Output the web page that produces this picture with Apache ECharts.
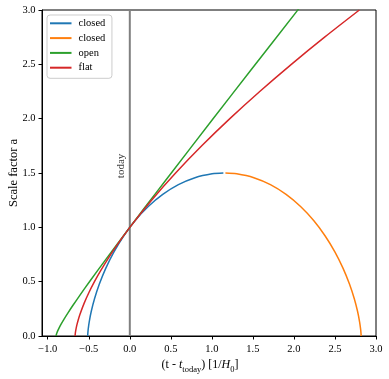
<!DOCTYPE html>
<html>
<head>
<meta charset="utf-8">
<script src="https://cdn.jsdelivr.net/npm/echarts@6/dist/echarts.min.js"></script>
<style>
html,body{margin:0;padding:0;background:#fff;}
#c{width:389px;height:379px;}
</style>
</head>
<body>
<div id="c"></div>
<script>
// Closed universe, expanding branch (blue)
var closedUpX = [-0.513, -0.5125, -0.5076, -0.4945, -0.4694, -0.4291, -0.3711, -0.2934, -0.1948, -0.0751, 0.0652, 0.2247, 0.4013, 0.5922, 0.7940, 1.0029, 1.140];
var closedUpY = [0, 0.0150, 0.0592, 0.131, 0.2275, 0.3448, 0.4782, 0.6225, 0.7719, 0.9204, 1.0621, 1.1914, 1.3030, 1.3927, 1.4567, 1.4925, 1.4999];
// Closed universe, collapsing branch (orange)
var closedDownX = [1.165, 1.3027, 1.5116, 1.7134, 1.9043, 2.0809, 2.2404, 2.3807, 2.5004, 2.5990, 2.6767, 2.7347, 2.7750, 2.8000, 2.8132, 2.8181, 2.8188];
var closedDownY = [1.4999, 1.4925, 1.4567, 1.3927, 1.3030, 1.1914, 1.0621, 0.9204, 0.7719, 0.6225, 0.4782, 0.3448, 0.2275, 0.131, 0.0592, 0.0150, 0];
// Open universe (green)
var openX = [-0.8982, -0.8969, -0.8940, -0.8879, -0.8776, -0.8613, -0.8373, -0.8029, -0.7552, -0.6903, -0.6030, -0.4872, -0.2986, 0, 0.1875, 0.4657, 1.0076, 1.4738, 2.0460, 2.2078];
var openY = [0, 0.0071, 0.0164, 0.0302, 0.0494, 0.0751, 0.1091, 0.1535, 0.2109, 0.2851, 0.3807, 0.5038, 0.6986, 1.0, 1.1868, 1.4616, 1.9920, 2.4452, 2.9991, 3.1554];
// Flat universe (red)
var flatX = [-0.6667, -0.6640, -0.6592, -0.6456, -0.6279, -0.6070, -0.5571, -0.4980, -0.4310, -0.3568, -0.1896, 0, 0.2650, 0.5581, 0.8767, 1.2190, 1.5833, 1.9686, 2.3736, 2.7974];
var flatY = [0, 0.025, 0.05, 0.1, 0.15, 0.2, 0.3, 0.4, 0.5, 0.6, 0.8, 1.0, 1.25, 1.5, 1.75, 2.0, 2.25, 2.5, 2.75, 3.0];
// "today" marker
var todayX = [0, 0];
var todayY = [0, 3];
var todayLabelPos = [-0.1, 1.565];
// Axis ticks
var xTicks = [-1.0, -0.5, 0.0, 0.5, 1.0, 1.5, 2.0, 2.5, 3.0];
var yTicks = [0.0, 0.5, 1.0, 1.5, 2.0, 2.5, 3.0];
var seriesNames = ['closed', 'closed ', 'open', 'flat'];

function zip(xs, ys) { return xs.map(function (x, i) { return [x, ys[i]]; }); }
function fmt(v) { return Number(v).toFixed(1).replace('-', '\u2212'); }

var FONT = 'Liberation Serif';
var chart = echarts.init(document.getElementById('c'), null, { renderer: 'canvas' });

function lineSeries(name, data, color) {
  return {
    name: name, type: 'line', data: data, showSymbol: false, symbol: 'none',
    smooth: 0.3, clip: true, z: 3,
    lineStyle: { color: color, width: 1.5 }, itemStyle: { color: color },
    emphasis: { disabled: true }, animation: false
  };
}

chart.setOption({
  animation: false,
  backgroundColor: '#ffffff',
  textStyle: { fontFamily: FONT },
  grid: { left: 42, right: 13, top: 10, bottom: 43, show: true, borderColor: '#000', borderWidth: 1, containLabel: false, outerBoundsMode: 'none' },
  legend: {
    data: seriesNames,
    orient: 'vertical',
    left: 47, top: 15,
    icon: 'rect', itemWidth: 21.5, itemHeight: 2, itemGap: 2.8,
    padding: [2.3, 4, 4.6, 3],
    borderColor: '#cccccc', borderWidth: 1, borderRadius: 3,
    backgroundColor: 'rgba(255,255,255,0.8)',
    textStyle: { fontFamily: FONT, fontSize: 10.5, lineHeight: 12, color: '#000', padding: [0, 0, 0, 2] },
    selectedMode: false
  },
  xAxis: {
    type: 'value', min: -1.07, max: 3.0,
    splitLine: { show: false },
    axisLine: { show: true, onZero: false, lineStyle: { color: '#000', width: 1 } },
    axisTick: { show: true, customValues: xTicks, length: 3.5, lineStyle: { color: '#000' } },
    axisLabel: { customValues: xTicks, formatter: fmt, fontFamily: FONT, fontSize: 10.5, color: '#000', margin: 8 },
    name: '{n|(t - }{i|t}{s|today}{n|) [1/}{i|H}{s|0}{n|]}',
    nameLocation: 'middle', nameGap: 21, nameMoveOverlap: false,
    nameTextStyle: {
      fontFamily: FONT, color: '#000', padding: [0, 18, 0, 0],
      rich: {
        n: { fontFamily: FONT, fontSize: 12, color: '#000', verticalAlign: 'bottom', lineHeight: 14 },
        i: { fontFamily: FONT, fontSize: 12, color: '#000', fontStyle: 'italic', verticalAlign: 'bottom', lineHeight: 14 },
        s: { fontFamily: FONT, fontSize: 8.5, color: '#000', verticalAlign: 'bottom', lineHeight: 14, padding: [0, 0, -3, 0] }
      }
    }
  },
  yAxis: {
    type: 'value', min: 0, max: 3.0,
    splitLine: { show: false },
    axisLine: { show: true, onZero: false, lineStyle: { color: '#000', width: 1 } },
    axisTick: { show: true, customValues: yTicks, length: 3.5, lineStyle: { color: '#000' } },
    axisLabel: { customValues: yTicks, formatter: fmt, fontFamily: FONT, fontSize: 10.5, color: '#000', margin: 6.5 },
    name: 'Scale factor a', nameLocation: 'middle', nameGap: 22, nameRotate: 90, nameMoveOverlap: false,
    nameTextStyle: { fontFamily: FONT, fontSize: 12.5, color: '#000' }
  },
  series: [
    {
      name: 'today', type: 'line', data: zip(todayX, todayY), showSymbol: false, symbol: 'none', z: 2,
      lineStyle: { color: '#808080', width: 2 }, emphasis: { disabled: true }, animation: false
    },
    {
      name: 'todayLabel', type: 'scatter', data: [todayLabelPos], symbolSize: 0, z: 2,
      label: { show: true, formatter: 'today', rotate: 90, position: 'inside', align: 'center', verticalAlign: 'middle',
        fontFamily: FONT, fontSize: 11, color: '#000' },
      emphasis: { disabled: true }, animation: false
    },
    lineSeries(seriesNames[0], zip(closedUpX, closedUpY), '#1f77b4'),
    lineSeries(seriesNames[1], zip(closedDownX, closedDownY), '#ff7f0e'),
    lineSeries(seriesNames[2], zip(openX, openY), '#2ca02c'),
    lineSeries(seriesNames[3], zip(flatX, flatY), '#d62728')
  ]
});
</script>
</body>
</html>
